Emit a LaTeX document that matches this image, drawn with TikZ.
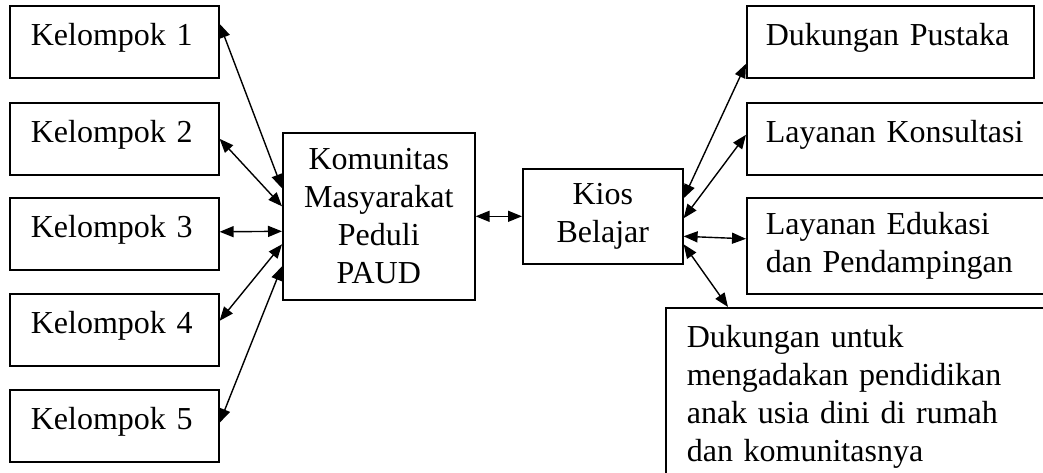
\documentclass[tikz,border=0pt]{standalone}
\usepackage{fontspec}
\setmainfont{Liberation Serif}
\usetikzlibrary{arrows.meta}

\begin{document}
\begin{tikzpicture}[x=0.5pt,y=-0.5pt,
    every node/.style={font=\fontsize{16}{19}\selectfont},
    box/.style={draw,line width=0.8pt,anchor=north west,inner ysep=0pt,align=left},
    line/.style={text height=20pt,text depth=16pt},
    link/.style={<->,line width=0.7pt,>={Triangle[length=7pt,width=5.5pt]}}]
    \useasboundingbox (0,0) rectangle (1043,472);
    \clip (0,0) rectangle (1043,472);
    % kelompok
    \node[box,line,inner xsep=10.5pt,text width=83.5pt,minimum height=36pt] (K1) at (9,5) {Kelompok 1};
    \node[box,line,inner xsep=10.5pt,text width=83.5pt,minimum height=35.5pt] (K2) at (9,102) {Kelompok 2};
    \node[box,line,inner xsep=10.5pt,text width=83.5pt,minimum height=36pt] (K3) at (9,197) {Kelompok 3};
    \node[box,line,inner xsep=10.5pt,text width=83.5pt,minimum height=36pt] (K4) at (9,293) {Kelompok 4};
    \node[box,line,inner xsep=10.5pt,text width=83.5pt,minimum height=36pt] (K5) at (9,389) {Kelompok 5};
    % tengah
    \node[box,align=center,inner xsep=0pt,text width=96pt,minimum height=83.5pt] (KM) at (282,132) {Komunitas\\Masyarakat\\Peduli\\PAUD};
    \node[box,align=center,inner xsep=0pt,text width=80pt,minimum height=47.5pt] (KB) at (522,168) {Kios\\Belajar};
    % layanan
    \node[box,line,inner xsep=9.5pt,text width=124.5pt,minimum height=36pt] (L1) at (746,5) {Dukungan Pustaka};
    \node[box,line,inner xsep=9.5pt,text width=133pt,minimum height=35.5pt] (L2) at (746,102) {Layanan Konsultasi};
    \node[box,inner xsep=9.5pt,text width=133pt,minimum height=48pt] (L3) at (746,197) {Layanan Edukasi\\dan Pendampingan};
    \node[box,inner xsep=10.5pt,text width=171.5pt,minimum height=89pt] (L4) at (665,307) {Dukungan untuk\\mengadakan pendidikan\\anak usia dini di rumah\\dan komunitasnya};
    % panah
    \path[link] ([yshift=9pt]K1.east) edge ([yshift=14pt]KM.west);
    \path[link] (K2.east) edge ([yshift=5pt]KM.west);
    \path[link] ([yshift=1pt]K3.east) edge ([yshift=-7.5pt]KM.west);
    \path[link] ([yshift=4.5pt]K4.east) edge ([yshift=-14pt]KM.west);
    \path[link] ([yshift=1.5pt]K5.east) edge ([yshift=-25pt]KM.west);
    \path[link] (KM.east) edge (KB.west);
    \path[link] ([yshift=9pt]KB.east) edge ([yshift=-11pt]L1.west);
    \path[link] ([yshift=-1pt]KB.east) edge ([yshift=2pt]L2.west);
    \path[link] ([yshift=-10pt]KB.east) edge ([yshift=3.5pt]L3.west);
    \path[link] ([yshift=-14pt]KB.east) edge ([xshift=31.5pt]L4.north west);
\end{tikzpicture}
\end{document}
